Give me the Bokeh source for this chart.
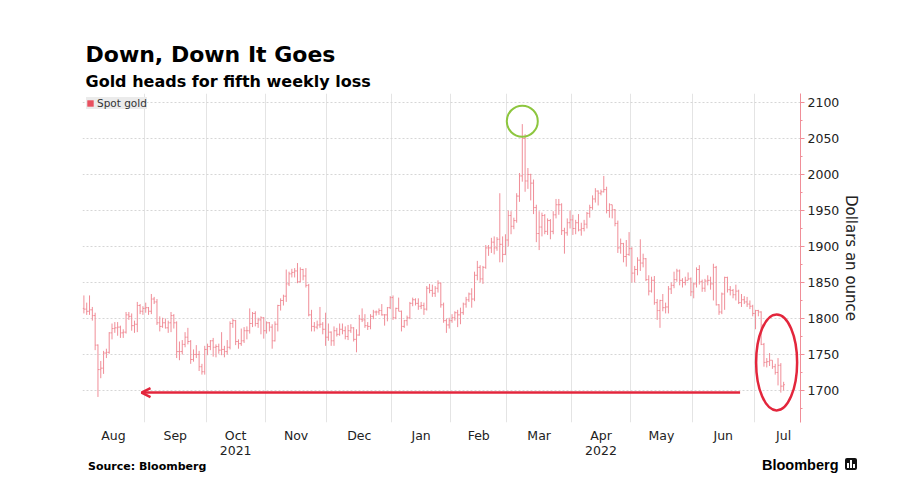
import numpy as np
import pandas as pd
from bokeh.plotting import figure
from bokeh.layouts import column
from bokeh.models import (Range1d, FixedTicker, LinearAxis, Arrow, OpenHead, Title, Div,
                          Legend, LegendItem, ColumnDataSource, CustomJSTickFormatter)
from bokeh.embed import file_html
from bokeh.resources import INLINE

# ---------------- data (spot gold, daily OHLC, USD/oz) ----------------
DATES = pd.bdate_range("2021-08-02", "2022-07-15")
SERIES_NAME = "Spot gold"

OPEN = (
    [1814,1813,1810,1812,1804,1763,1729,1731,1752,1753,1780,1786,1787,1788,1780,1781,1805,1803,1790,1792,1818,1810]
  + [1814,1815,1810,1827,1823,1794,1789,1794,1787,1794,1804,1794,1754,1754,1764,1774,1768,1743,1750,1750,1733,1726]
  + [1757,1761,1769,1760,1761,1756,1757,1754,1760,1793,1797,1768,1765,1769,1783,1783,1793,1807,1793,1798,1801]
  + [1783,1794,1788,1769,1792,1818,1825,1831,1848,1862,1864,1866,1851,1868,1859,1846,1805,1789,1788,1791,1792,1785]
  + [1774,1781,1769,1783,1778,1785,1783,1775,1783,1787,1771,1777,1799,1798,1790,1789,1803,1809,1809,1811,1805,1805,1815]
  + [1829,1801,1814,1810,1789,1797,1801,1821,1826,1821,1817,1818,1813,1842,1839,1835,1842,1849,1819,1797,1791]
  + [1797,1801,1808,1805,1808,1820,1826,1834,1827,1860,1871,1855,1871,1898,1898,1906,1898,1910,1903,1889]
  + [1909,1943,1928,1936,1970,1998,2050,1991,2000,1988,1954,1918,1927,1943,1921,1936,1921,1944,1958,1958,1922,1919,1933]
  + [1937,1925,1933,1923,1925,1931,1946,1954,1966,1977,1974,1976,1979,1950,1958,1951,1932,1898,1904,1886,1889]
  + [1897,1863,1868,1881,1877,1883,1854,1838,1853,1822,1811,1825,1815,1816,1841,1846,1854,1866,1853,1850,1853,1855]
  + [1837,1848,1868,1851,1842,1852,1853,1848,1871,1819,1809,1834,1857,1840,1839,1833,1838,1822,1826,1823,1820,1817]
  + [1807,1811,1809,1764,1739,1740,1742,1733,1725,1735,1706]
)
HIGH = (
    [1832,1822,1832,1816,1808,1764,1741,1755,1758,1781,1793,1795,1795,1790,1785,1809,1809,1807,1797,1823,1820,1817]
  + [1822,1816,1834,1830,1827,1803,1801,1800,1797,1809,1806,1796,1768,1770,1781,1787,1770,1757,1763,1755,1737,1762]
  + [1765,1770,1773,1764,1765,1781,1762,1770,1796,1800,1798,1771,1786,1788,1789,1814,1809,1810,1801,1803,1802]
  + [1796,1795,1792,1796,1819,1828,1833,1868,1865,1869,1870,1877,1871,1869,1870,1848,1812,1795,1797,1816,1795,1808]
  + [1793,1782,1789,1787,1793,1793,1789,1791,1792,1788,1785,1805,1814,1806,1795,1806,1812,1811,1814,1820,1806,1816,1831]
  + [1832,1815,1829,1811,1798,1804,1823,1829,1828,1828,1823,1822,1845,1848,1847,1845,1853,1850,1822,1800,1801]
  + [1806,1810,1812,1815,1822,1830,1836,1842,1865,1880,1874,1873,1902,1902,1912,1914,1913,1974,1914,1917]
  + [1950,1949,1940,1974,2002,2070,2056,2009,2001,1993,1958,1949,1947,1945,1939,1938,1949,1966,1966,1960,1926,1939,1950]
  + [1944,1937,1945,1933,1937,1948,1958,1971,1981,1978,1979,1998,1983,1960,1958,1952,1936,1911,1905,1909,1920]
  + [1899,1873,1885,1910,1890,1884,1860,1858,1859,1827,1826,1834,1822,1845,1850,1865,1869,1868,1856,1858,1864,1857]
  + [1850,1871,1874,1854,1855,1860,1858,1876,1873,1820,1836,1858,1858,1845,1841,1847,1840,1834,1831,1830,1825,1819]
  + [1812,1812,1810,1766,1745,1752,1742,1737,1745,1738,1712]
)
LOW = (
    [1807,1805,1805,1797,1756,1691,1717,1723,1745,1751,1771,1780,1776,1773,1773,1779,1798,1783,1780,1781,1806,1805]
  + [1808,1805,1806,1820,1791,1782,1787,1786,1780,1781,1786,1745,1742,1750,1760,1764,1737,1740,1745,1727,1722,1722]
  + [1749,1756,1747,1746,1751,1749,1746,1750,1757,1787,1763,1758,1762,1766,1771,1779,1788,1789,1787,1778,1772]
  + [1779,1782,1758,1768,1782,1811,1818,1823,1845,1857,1857,1849,1850,1853,1843,1803,1782,1782,1785,1787,1778,1762]
  + [1769,1762,1762,1775,1776,1778,1771,1770,1780,1768,1753,1776,1795,1787,1784,1785,1799,1804,1805,1804,1790,1796,1813]
  + [1798,1799,1810,1782,1787,1790,1799,1817,1818,1812,1813,1805,1811,1835,1830,1830,1836,1815,1794,1780,1786]
  + [1794,1797,1788,1792,1805,1815,1823,1815,1824,1853,1850,1848,1869,1887,1891,1889,1894,1878,1878,1888]
  + [1900,1917,1924,1933,1962,1990,1976,1980,1964,1945,1906,1895,1914,1917,1916,1910,1917,1939,1944,1916,1890,1915,1925]
  + [1916,1917,1921,1915,1921,1925,1940,1951,1961,1957,1971,1975,1946,1940,1939,1928,1891,1890,1878,1872,1887]
  + [1850,1850,1860,1866,1871,1852,1832,1836,1819,1798,1787,1810,1807,1807,1834,1842,1851,1846,1843,1846,1853,1831]
  + [1828,1843,1847,1837,1837,1846,1840,1825,1818,1805,1806,1812,1836,1832,1828,1825,1820,1816,1820,1816,1813,1803]
  + [1785,1803,1763,1733,1732,1734,1730,1722,1707,1697,1700]
)
CLOSE = (
    [1813,1810,1812,1804,1763,1729,1731,1752,1753,1780,1786,1787,1788,1780,1781,1805,1803,1790,1792,1818,1810,1814]
  + [1815,1810,1827,1823,1794,1789,1794,1787,1794,1804,1794,1754,1754,1764,1774,1768,1743,1750,1750,1733,1726,1757]
  + [1761,1769,1760,1761,1756,1757,1754,1760,1793,1797,1768,1765,1769,1783,1783,1793,1807,1793,1798,1801,1783]
  + [1794,1788,1769,1792,1818,1825,1831,1848,1862,1864,1866,1851,1868,1859,1846,1805,1789,1788,1791,1792,1785,1774]
  + [1781,1769,1783,1778,1785,1783,1775,1783,1787,1771,1777,1799,1798,1790,1789,1803,1809,1809,1811,1805,1805,1815,1829]
  + [1801,1814,1810,1789,1797,1801,1821,1826,1821,1817,1818,1813,1842,1839,1835,1842,1849,1819,1797,1791,1797]
  + [1801,1808,1805,1808,1820,1826,1834,1827,1860,1871,1855,1871,1898,1898,1906,1898,1910,1903,1889,1909]
  + [1943,1928,1936,1970,1998,2050,1991,2000,1988,1954,1918,1927,1943,1921,1936,1921,1944,1958,1958,1922,1919,1933,1937]
  + [1925,1933,1923,1925,1931,1946,1954,1966,1977,1974,1976,1979,1950,1958,1951,1932,1898,1904,1886,1889,1897]
  + [1863,1868,1881,1877,1883,1854,1838,1853,1822,1811,1825,1815,1816,1841,1846,1854,1866,1853,1850,1853,1855,1837]
  + [1848,1868,1851,1842,1852,1853,1848,1871,1819,1809,1834,1857,1840,1839,1833,1838,1822,1826,1823,1820,1817,1807]
  + [1811,1809,1764,1739,1740,1742,1733,1725,1735,1706,1708]
)
Y_TICKS = [1700, 1750, 1800, 1850, 1900, 1950, 2000, 2050, 2100]
YEAR_MONTHS = {"2021-10": "2021", "2022-04": "2022"}

# annotation placements (decorations)
ARROW_LEVEL = 1697
ARROW_FROM, ARROW_TO = 233.5, 20.5
ELLIPSE_X, ELLIPSE_Y = 246.5, 1739

TITLE = "Down, Down It Goes"
SUBTITLE = "Gold heads for fifth weekly loss"
SOURCE = "Source: Bloomberg"
BRAND = "Bloomberg"

n = len(DATES)
assert len(OPEN) == len(HIGH) == len(LOW) == len(CLOSE) == n

idx = np.arange(n)
src = ColumnDataSource(dict(x=idx, xl=idx - 0.45, xr=idx + 0.45,
                            open=OPEN, high=HIGH, low=LOW, close=CLOSE))

# month positions on the business-day axis
periods = DATES.to_period("M")
uniq = list(dict.fromkeys(periods))
starts, mids, names = [], [], []
for m in uniq:
    s = int(np.argmax(periods == m))
    full = list(pd.bdate_range(m.start_time, m.end_time.normalize()))
    off = full.index(DATES[s])
    starts.append(s)
    mids.append(float(s - off + (len(full) - 1) / 2))
    names.append(m.strftime("%b"))
grid_ticks = [s - 0.5 for s in starts[1:]]
year_pos = [mids[uniq.index(pd.Period(k, "M"))] for k in YEAR_MONTHS]
year_lab = list(YEAR_MONTHS.values())

FONT = "DejaVu Sans"
BAR = "#f08e98"
RED = "#e3263c"
GREEN = "#8dc63f"
W = 902
MAIN_H, FOOT_H = 458, 32

# ---------------- main chart ----------------
p = figure(width=W, height=MAIN_H, output_backend="svg", toolbar_location=None,
           x_range=Range1d(-0.5, 255), y_range=Range1d(1655.5, 2112.5),
           y_axis_location="right",
           min_border_left=82, min_border_right=102, min_border_top=93, min_border_bottom=36)
p.outline_line_color = None
p.background_fill_color = "white"
p.border_fill_color = "white"

# titles: main title is outermost, subtitle sits just above the frame
p.title.text = TITLE
p.title.align = "left"
p.title.offset = 3
p.title.standoff = 0
p.title.text_font = FONT
p.title.text_font_size = "22px"
p.title.text_font_style = "bold"
p.title.text_color = "#000000"
p.add_layout(Title(text=SUBTITLE, align="left", offset=3, standoff=6, text_font=FONT,
                   text_font_size="16px", text_font_style="bold", text_color="#000000"), "above")

p.xgrid.ticker = FixedTicker(ticks=grid_ticks)
p.xgrid.grid_line_color = "#e4e4e4"
p.ygrid.ticker = FixedTicker(ticks=Y_TICKS)
p.ygrid.grid_line_color = "#d6d6d6"
p.ygrid.grid_line_dash = "2 2"

JS_LOOKUP = """
for (let i = 0; i < pos.length; i++) { if (Math.abs(tick - pos[i]) < 1e-6) return labs[i]; }
return "";"""

xa = p.xaxis[0]
xa.ticker = FixedTicker(ticks=mids)
xa.formatter = CustomJSTickFormatter(args=dict(pos=mids, labs=names), code=JS_LOOKUP)
ya2 = LinearAxis(ticker=FixedTicker(ticks=year_pos),
                 formatter=CustomJSTickFormatter(args=dict(pos=year_pos, labs=year_lab), code=JS_LOOKUP))
p.add_layout(ya2, "below")
for ax, so in ((xa, 5), (ya2, 0)):
    ax.axis_line_color = None
    ax.major_tick_line_color = None
    ax.minor_tick_line_color = None
    ax.major_tick_out = 0
    ax.major_label_standoff = so
    ax.major_label_text_font = FONT
    ax.major_label_text_font_size = "12.5px"
    ax.major_label_text_color = "#222222"

yax = p.yaxis[0]
yax.ticker = FixedTicker(ticks=Y_TICKS, minor_ticks=[v + 25 for v in Y_TICKS[:-1]] + [1675])
yax.axis_line_color = BAR
yax.major_tick_line_color = BAR
yax.minor_tick_line_color = BAR
yax.major_tick_out = 4
yax.major_tick_in = 0
yax.minor_tick_out = 2
yax.minor_tick_in = 0
yax.major_label_standoff = 3
yax.major_label_text_font = FONT
yax.major_label_text_font_size = "12.5px"
yax.major_label_text_color = "#222222"
yax.axis_label = "Dollars an ounce"
yax.axis_label_text_font = FONT
yax.axis_label_text_font_style = "normal"
yax.axis_label_text_font_size = "15px"
yax.axis_label_text_color = "#222222"
yax.axis_label_standoff = 0

# OHLC bars: high-low stem, open tick left, close tick right
p.segment(x0="x", y0="low", x1="x", y1="high", source=src, line_color=BAR, line_width=1)
p.segment(x0="xl", y0="open", x1="x", y1="open", source=src, line_color=BAR, line_width=1)
p.segment(x0="x", y0="close", x1="xr", y1="close", source=src, line_color=BAR, line_width=1)

# legend proxy (never visible in the frame): a filled square swatch
leg_r = p.quad(left=[np.nan], right=[np.nan], top=[np.nan], bottom=[np.nan],
               fill_color="#e8505f", line_color=None)
legend = Legend(items=[LegendItem(label=SERIES_NAME, renderers=[leg_r])], location="top_left",
                margin=4, padding=5, spacing=0, glyph_width=8, glyph_height=8,
                label_standoff=3, label_height=10,
                label_text_font=FONT, label_text_font_size="10.5px", label_text_color="#333333",
                background_fill_color="#ebebeb", background_fill_alpha=1.0,
                border_line_color=None)
p.add_layout(legend)

# annotations
peak_i = int(np.argmax(HIGH))
p.scatter(x=[peak_i], y=[HIGH[peak_i] + 4], marker="circle", size=31,
          fill_color=None, line_color=GREEN, line_width=2)
p.ellipse(x=[ELLIPSE_X], y=[ELLIPSE_Y], width=41, height=96,
          width_units="screen", height_units="screen",
          fill_color=None, line_color=RED, line_width=2.5)
p.add_layout(Arrow(end=OpenHead(size=9, line_color=RED, line_width=2.5),
                   x_start=ARROW_FROM, y_start=ARROW_LEVEL, x_end=ARROW_TO, y_end=ARROW_LEVEL,
                   line_color=RED, line_width=2.5))

# ---------------- footer ----------------
bar_css = "position:absolute;bottom:2px;width:2px;background:#fff;"
foot_html = (
    f'<div style="position:relative;width:{W}px;height:{FOOT_H}px;margin:0;padding:0;">'
    f'<span style="position:absolute;left:88px;top:3px;font-family:\'DejaVu Sans\';font-weight:bold;'
    f'font-size:11px;line-height:1;color:#000;white-space:nowrap;">{SOURCE}</span>'
    f'<span style="position:absolute;left:762px;top:0px;font-family:\'Liberation Sans\';font-weight:bold;'
    f'font-size:14.5px;line-height:1;color:#000;white-space:nowrap;">{BRAND}</span>'
    f'<span style="position:absolute;left:845px;top:0px;width:12px;height:12px;background:#111;'
    f'border-radius:2px;">'
    f'<span style="{bar_css}left:2px;height:5px;"></span>'
    f'<span style="{bar_css}left:5px;height:8px;"></span>'
    f'<span style="{bar_css}left:8px;height:4px;"></span>'
    f'</span>'
    '</div>'
)
foot = Div(text=foot_html, width=W, height=FOOT_H, margin=0)

layout = column(p, foot, spacing=0)
open("out.html", "w").write(file_html(layout, INLINE))
